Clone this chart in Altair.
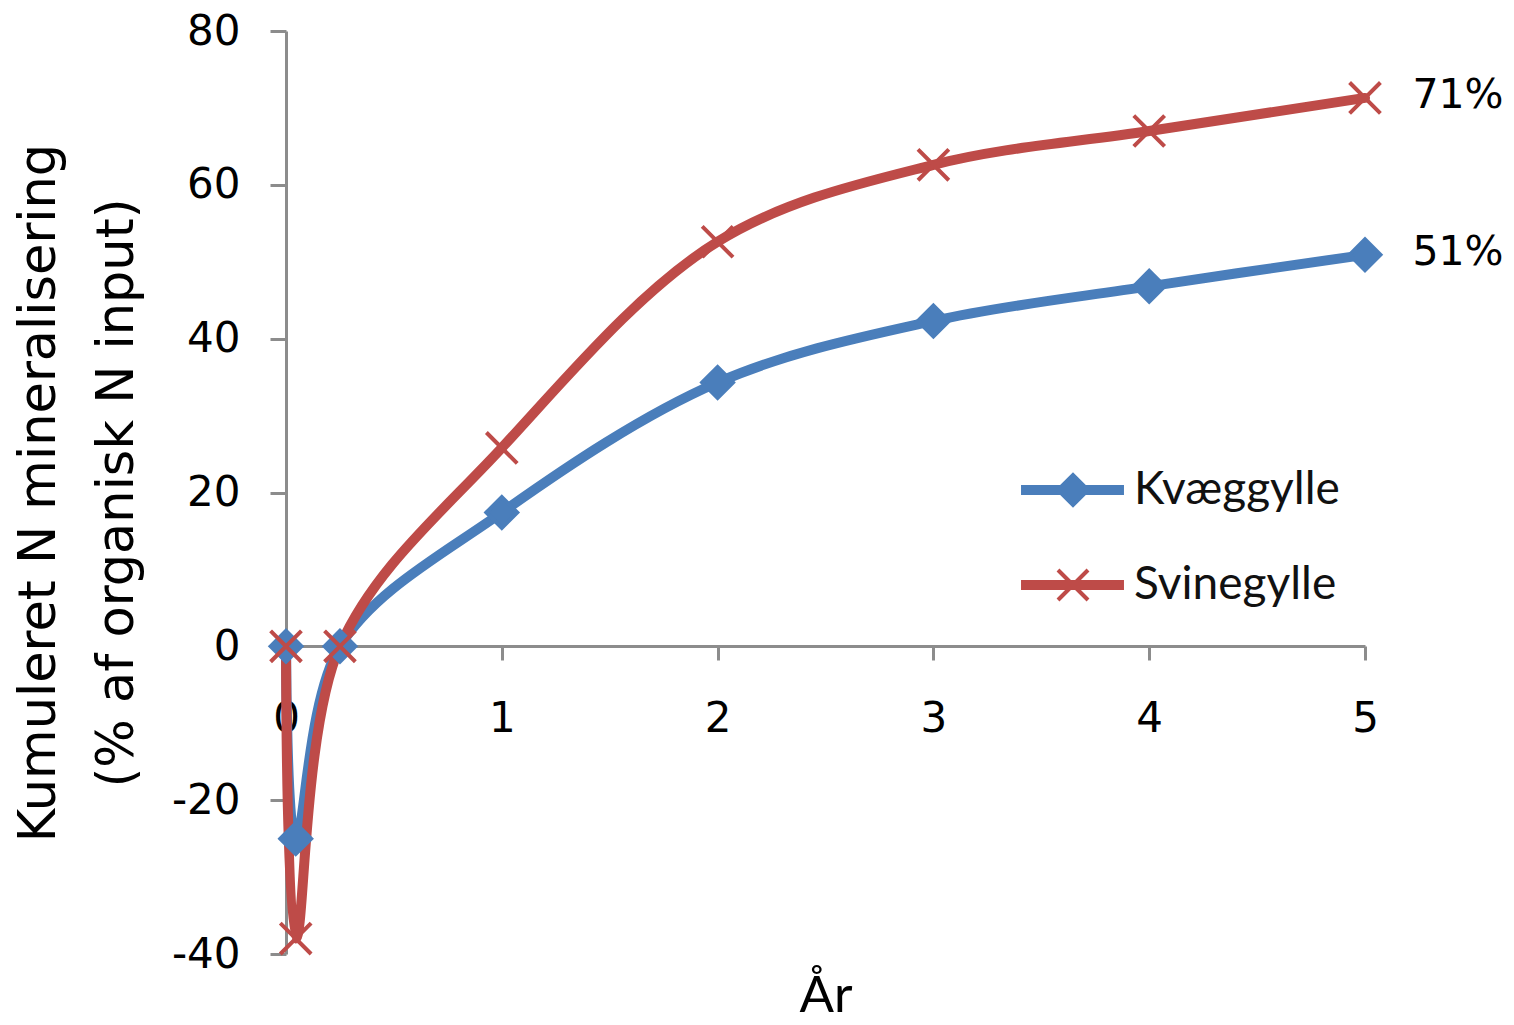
import altair as alt
import pandas as pd

# ---- data ----
years = [0, 0.045, 0.25, 1, 2, 3, 4, 5]
kvaeggylle = [0, -25, 0, 17.4, 34.3, 42.3, 46.8, 50.9]
svinegylle = [0, -38, 0, 25.8, 52.6, 62.6, 67.0, 71.3]
series_names = ["Kvæggylle", "Svinegylle"]
end_labels = ["51%", "71%"]
x_ticks = [0, 1, 2, 3, 4, 5]
y_ticks = [-40, -20, 0, 20, 40, 60, 80]

colors = ["#4A7EBB", "#BE4B48"]
gray = "#8C8C8C"

rows = []
for name, vals in zip(series_names, [kvaeggylle, svinegylle]):
    for xv, yv in zip(years, vals):
        rows.append({"Aar": xv, "Vaerdi": yv, "Serie": name, "Serie2": name})
df = pd.DataFrame(rows)

end_df = pd.DataFrame({
    "Aar": [years[-1], years[-1]],
    "Vaerdi": [kvaeggylle[-1], svinegylle[-1]],
    "Tekst": end_labels,
})

x_enc = alt.X(
    "Aar:Q",
    scale=alt.Scale(domain=[0, 5], nice=False, zero=False),
    axis=alt.Axis(
        values=x_ticks, labelExpr="datum.value", offset=-308, grid=False,
        domainColor=gray, domainWidth=3, tickColor=gray, tickWidth=3, tickSize=14,
        labelFont="DejaVu Sans", labelFontSize=42, labelColor="#000",
        labelPadding=38, labelFlush=False,
        title="År", titleFont="Lato", titleFontSize=51, titleFontWeight="normal",
        titleColor="#000", titlePadding=232,
    ),
)
y_enc = alt.Y(
    "Vaerdi:Q",
    scale=alt.Scale(domain=[-40, 80], nice=False),
    axis=alt.Axis(
        values=y_ticks, labelExpr="datum.value", grid=False,
        domainColor=gray, domainWidth=3, tickColor=gray, tickWidth=3, tickSize=16,
        labelFont="DejaVu Sans", labelFontSize=42, labelColor="#000",
        labelPadding=30, labelFlush=False,
        title=["Kumuleret N mineralisering", "(% af organisk N input)"],
        titleFont="DejaVu Sans", titleFontSize=51, titleFontWeight="normal",
        titleLineHeight=78, titlePadding=28, titleColor="#000",
    ),
)

legend_lines = alt.Legend(
    title=None, orient="none", legendX=730, legendY=436, padding=0,
    symbolType="stroke", symbolSize=10600, symbolStrokeWidth=10,
    labelFont="Lato", labelFontSize=46, labelColor="#111", labelOffset=5,
    labelLimit=400, clipHeight=46, rowPadding=49,
)
legend_marks = alt.Legend(
    title=None, orient="none", legendX=764, legendY=436, padding=0,
    symbolSize=900, symbolStrokeWidth=4,
    labelExpr="''", labelFontSize=46, labelOffset=0,
    clipHeight=46, rowPadding=49,
)

lines = alt.Chart(df).mark_line(
    interpolate="catmull-rom", strokeWidth=10, strokeCap="round", strokeJoin="round"
).encode(
    x=x_enc, y=y_enc,
    color=alt.Color("Serie:N", scale=alt.Scale(range=colors), legend=legend_lines),
)

points = alt.Chart(df).mark_point(
    size=950, strokeWidth=4, opacity=1, fillOpacity=1, strokeOpacity=1
).encode(
    x=x_enc, y=y_enc,
    shape=alt.Shape("Serie2:N",
                    scale=alt.Scale(domain=series_names,
                                    range=["diamond", "M-1,-1L1,1M-1,1L1,-1"]),
                    legend=legend_marks),
    fill=alt.Fill("Serie2:N", scale=alt.Scale(domain=series_names, range=colors),
                  legend=legend_marks),
    stroke=alt.Stroke("Serie2:N", scale=alt.Scale(domain=series_names, range=colors),
                      legend=legend_marks),
)

texts = alt.Chart(end_df).mark_text(
    align="center", baseline="middle", dx=93, dy=-2,
    font="DejaVu Sans", fontSize=41, color="#000"
).encode(x=x_enc, y=y_enc, text="Tekst:N")

chart = alt.layer(lines, points, texts).properties(
    width=1079, height=923,
    padding={"left": 5, "top": 2, "right": 0, "bottom": 0},
).configure_view(stroke=None)

chart.save("out.html", embed_options={"renderer": "svg", "actions": False})
